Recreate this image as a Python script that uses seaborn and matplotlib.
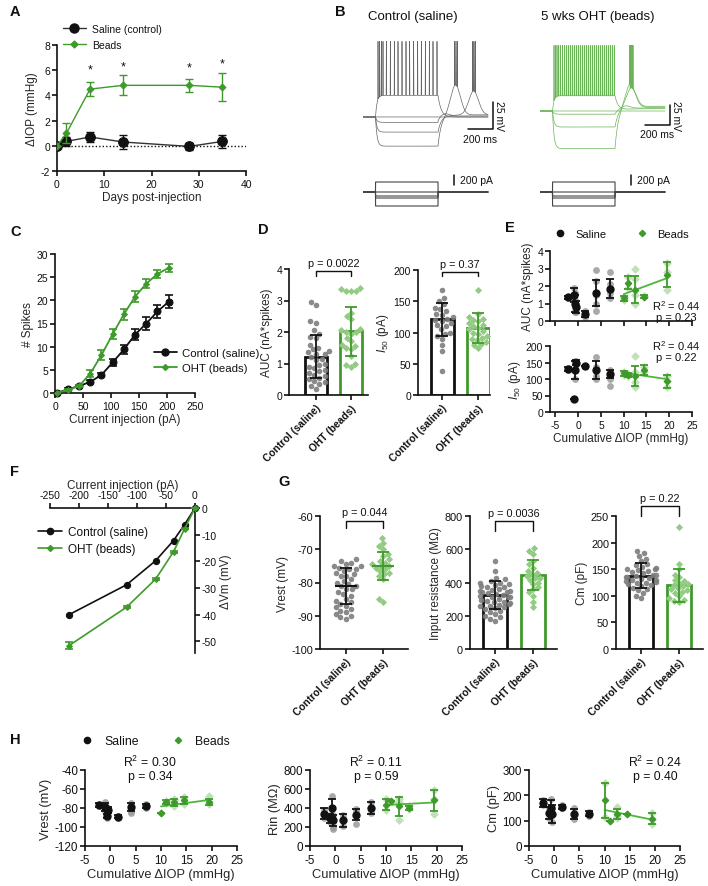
import numpy as np
import matplotlib
matplotlib.use('Agg')
import matplotlib.pyplot as plt
import seaborn as sns
from matplotlib.lines import Line2D

# ---------------- data ----------------
# A: IOP change over time
iop_days = [0, 2, 7, 14, 28, 35]
iop_saline = [0.0, 0.35, 0.7, 0.3, -0.05, 0.35]
iop_saline_err = [0.0, 0.35, 0.4, 0.55, 0.3, 0.5]
iop_beads = [0.0, 1.0, 4.5, 4.8, 4.8, 4.65]
iop_beads_err = [0.0, 0.8, 0.55, 0.8, 0.5, 1.1]
star_days = [7, 14, 28, 35]
star_y = [6.1, 6.3, 6.2, 6.5]

# B: example traces (levels in mV, spike times in ms)
ctrl_levels = [-50, -70, -75, -84, -97]
ctrl_spikes = [[120, 133, 147, 160, 187, 219, 251, 280, 312, 344, 373, 405, 437, 467, 499, 531, 560, 592],
               [], [], [878, 888, 899], [733, 744, 755]]
ctrl_hump = [0, 0, 3, 22, 28]
ctrl_hump_t = [0, 0, 650, 885, 740]
ctrl_tail = [0, 0, 1, 2, 2]
oht_levels = [-51, -70, -74, -90, -117]
oht_spikes = [[112, 124, 136, 150, 165, 180, 195, 210, 226, 242, 258, 274, 290, 306, 322, 338,
               354, 370, 386, 402, 418, 434, 450, 466, 482, 498, 514, 530, 546, 562, 578, 594],
              [], [], [722, 728, 735, 742], [716, 722, 729, 736, 744]]
oht_hump = [0, 0, 4, 24, 30]
oht_hump_t = [0, 0, 680, 730, 722]
oht_tail = [3, 0, 4, 6, 5]
step_currents = [200, 0, -80, -120, -280]

# C: spikes vs current
inj_pA = [3, 23, 43, 63, 83, 103, 123, 143, 163, 183, 203]
spk_ctrl = [0.0, 0.8, 1.5, 2.4, 3.9, 6.6, 9.4, 12.6, 15.0, 17.6, 19.7]
spk_ctrl_err = [0.2, 0.3, 0.3, 0.3, 0.4, 0.8, 1.0, 1.2, 1.3, 1.4, 1.4]
spk_oht = [0.0, 0.7, 1.5, 4.2, 8.2, 12.7, 17.0, 20.8, 23.6, 25.7, 27.0]
spk_oht_err = [0.1, 0.2, 0.3, 0.8, 1.0, 1.1, 1.2, 1.2, 1.0, 0.9, 0.9]

groups = ['Control (saline)', 'OHT (beads)']

# D
auc_ctrl = [2.95, 2.85, 2.35, 2.3, 2.05, 1.95, 1.85, 1.8, 1.6, 1.5, 1.45, 1.4, 1.35, 1.3, 1.3, 1.2, 1.15,
            1.1, 1.0, 0.95, 0.9, 0.85, 0.8, 0.75, 0.7, 0.65, 0.6, 0.55, 0.5, 0.45, 0.4, 0.35, 0.3, 0.2]
auc_oht = [3.4, 3.35, 3.3, 3.3, 3.3, 2.6, 2.5, 2.4, 2.1, 2.05, 2.0, 2.0, 1.95, 1.8, 1.7, 1.6, 1.55,
           1.5, 1.45, 1.25, 1.0, 0.95, 0.9]
auc_mean = [1.22, 2.02]
auc_sd = [0.68, 0.78]
i50_ctrl = [168, 155, 150, 145, 140, 138, 135, 130, 128, 125, 122, 120, 118, 115, 112, 110, 105,
            100, 98, 95, 90, 80, 70, 38]
i50_oht = [168, 130, 125, 122, 120, 118, 115, 112, 110, 108, 105, 102, 100, 98, 95, 92, 90, 88,
           85, 82, 80, 75]
i50_mean = [121, 107]
i50_sd = [27, 24]

# E / H: per-animal values vs cumulative IOP
animal_x_sal = [-2.2, -1.0, -0.7, -0.4, 1.5, 4.0, 7.0]
animal_x_oht = [10.0, 11.0, 12.5, 14.5, 19.5]
e_auc = dict(sal_mean=[1.35, 1.5, 1.0, 0.8, 0.4, 1.6, 1.85], sal_sd=[0.1, 0.4, 0.5, 0.35, 0.15, 0.75, 0.55],
             sal_pts=[[1.3, 1.4], [1.9, 1.2, 1.4], [1.6, 0.6, 0.5, 1.2], [0.9, 0.7, 0.5], [0.55, 0.25],
                      [2.9, 2.3, 1.5, 1.0, 0.6], [2.8, 2.1, 1.6, 1.3]],
             oht_mean=[1.3, 2.2, 1.8, 1.4, 2.65], oht_sd=[0.15, 0.35, 0.75, 0.1, 0.7],
             oht_pts=[[1.2, 1.4], [2.5, 1.9], [3.0, 2.4, 1.0, 1.5], [1.35, 1.45], [3.3, 2.8, 1.8]])
e_i50 = dict(sal_mean=[130, 38, 128, 150, 140, 127, 114], sal_sd=[5, 0, 28, 8, 0, 27, 12],
             sal_pts=[[128, 133], [38], [155, 100, 130], [155, 145], [140], [168, 135, 110, 100],
                      [128, 118, 100, 80]],
             oht_mean=[117, 112, 110, 127, 93], oht_sd=[8, 5, 30, 15, 20],
             oht_pts=[[112, 122], [108, 116], [170, 120, 90, 75], [120, 135], [110, 95, 75]])
h_vrest = dict(sal_mean=[-77, -79, -88, -82, -89, -79, -78], sal_sd=[2, 4, 2, 3, 2, 4, 2],
               sal_pts=[[-76, -78], [-74, -83, -80], [-90, -87, -89], [-80, -84], [-90, -88],
                        [-75, -83, -85, -78], [-76, -79, -80]],
               oht_mean=[-85, -74, -74, -72, -74], oht_sd=[0, 2, 4, 4, 3],
               oht_pts=[[-85], [-73, -75], [-70, -78, -72, -76], [-68, -76], [-67, -76, -75]])
h_rin = dict(sal_mean=[340, 290, 400, 270, 270, 330, 400], sal_sd=[60, 50, 90, 60, 70, 60, 60],
             sal_pts=[[300, 380], [250, 330, 280], [530, 400, 330, 290], [200, 250, 330, 180], [210, 330],
                      [390, 330, 230, 370], [460, 400, 350, 380]],
             oht_mean=[435, 470, 420, 400, 480], oht_sd=[60, 0, 100, 25, 110],
             oht_pts=[[380, 490], [470], [270, 500, 450, 460], [390, 420], [590, 500, 340]])
h_cm = dict(sal_mean=[170, 130, 150, 125, 155, 125, 128], sal_sd=[15, 25, 30, 35, 8, 20, 10],
            sal_pts=[[160, 180], [110, 150, 135], [185, 120, 150], [95, 150, 130], [150, 160],
                     [150, 105, 120, 125], [120, 135, 130]],
            oht_mean=[180, 100, 125, 128, 108], oht_sd=[70, 0, 20, 0, 22],
            oht_pts=[[250, 115], [100], [155, 110, 120], [128], [130, 88, 105]])

# F: IV relation
iv_pA_ctrl = [-217, -118, -68, -37, -18, 0]
iv_dv_ctrl = [-40.0, -28.8, -19.8, -12.2, -6.2, 0.0]
iv_pA_oht = [-217, -118, -68, -37, -18, 0]
iv_dv_oht = [-51.6, -37.2, -26.7, -16.4, -7.8, 0.0]
iv_err_oht = [1.2, 0.5, 0.4, 0.3, 0.2, 0.0]

# G
vrest_ctrl = [-73, -73.5, -74, -74.5, -75, -75, -75.5, -76, -76, -76.5, -77, -77.5, -78, -78, -79, -79.5,
              -80, -80.5, -81, -81, -82, -82, -83, -83.5, -84, -85, -85.5, -86, -86.5, -87, -87.5, -88,
              -88.5, -89, -89.5, -90, -90.5, -91]
vrest_oht = [-66.5, -68, -69, -70, -71.5, -72, -73, -73.5, -74, -74.5, -75, -75, -75.5, -76, -76.5, -77,
             -77.5, -78, -79, -85, -86]
vrest_mean = [-81.0, -75.0]
vrest_sd = [5.5, 4.2]
rin_ctrl = [530, 470, 430, 420, 410, 400, 395, 390, 385, 380, 375, 370, 360, 355, 350, 350, 345, 340, 335,
            330, 325, 320, 315, 310, 310, 300, 295, 290, 285, 280, 275, 270, 265, 260, 260, 250, 245, 240,
            230, 220, 210, 200, 190, 180, 170]
rin_oht = [605, 590, 570, 530, 510, 490, 470, 460, 450, 440, 430, 425, 415, 400, 390, 370, 360, 340, 320,
           280, 250]
rin_mean = [325, 443]
rin_sd = [85, 90]
cm_ctrl = [185, 180, 175, 170, 165, 160, 158, 155, 152, 150, 150, 148, 146, 144, 142, 140, 140, 138, 136,
           135, 134, 132, 130, 130, 128, 126, 125, 124, 122, 120, 118, 115, 112, 110, 105, 100, 95]
cm_oht = [230, 160, 150, 140, 135, 130, 128, 125, 122, 120, 118, 115, 112, 110, 108, 105, 100, 95, 92,
          90, 88]
cm_mean = [138, 120]
cm_sd = [23, 31]

# ---------------- style ----------------
INK = '#111111'
GREEN = '#3f9a2c'
LINE_GREEN = '#4cb83a'
LIGHT_GREEN = '#92cb82'
GRAY = '#7d7d7d'

sns.set_style('ticks')
plt.rcParams['font.family'] = ['Liberation Sans', 'DejaVu Sans']
plt.rcParams.update({
    'mathtext.fontset': 'custom', 'mathtext.rm': 'Liberation Sans',
    'mathtext.it': 'Liberation Sans:italic', 'mathtext.default': 'regular',
    'axes.unicode_minus': False,
    'axes.linewidth': 1.2, 'xtick.major.width': 1.2, 'ytick.major.width': 1.2,
    'xtick.major.size': 3.5, 'ytick.major.size': 3.5, 'xtick.major.pad': 2, 'ytick.major.pad': 1.5,
    'xtick.labelsize': 7.5, 'ytick.labelsize': 7.5, 'axes.labelsize': 8.5,
    'axes.edgecolor': INK, 'xtick.color': INK, 'ytick.color': INK, 'text.color': INK,
    'axes.labelpad': 2,
})

W, H = 708, 887
fig = plt.figure(figsize=(W / 100, H / 100), dpi=100)


def px_axes(x0, y0, x1, y1):
    return fig.add_axes([x0 / W, 1 - y1 / H, (x1 - x0) / W, (y1 - y0) / H])


def px_text(x, y, s, **kw):
    fig.text(x / W, 1 - y / H, s, **kw)


def px_anchor(x, y):
    return (x / W, 1 - y / H)


for letter, (lx, ly) in zip('ABCDEFGH', [(10, 12), (335, 12), (10, 232), (258, 230), (505, 228),
                                          (10, 472), (278, 482), (10, 740)]):
    px_text(lx, ly, letter, fontsize=10.5, fontweight='bold', ha='left', va='center')

# ---------------- A ----------------
axA = px_axes(57, 46, 246, 172)
axA.axhline(0, color=INK, lw=1, ls=(0, (1, 1.5)), zorder=1)
sns.lineplot(x=iop_days, y=iop_saline, ax=axA, color='#333333', lw=1, marker='o', markersize=7,
             markerfacecolor=INK, markeredgecolor=INK, zorder=3)
axA.errorbar(iop_days, iop_saline, yerr=iop_saline_err, fmt='none', ecolor=INK, elinewidth=1,
             capsize=3, capthick=1, zorder=3)
sns.lineplot(x=iop_days, y=iop_beads, ax=axA, color=GREEN, lw=1, marker='D', markersize=3.5,
             markerfacecolor=GREEN, markeredgecolor=GREEN, zorder=4)
axA.errorbar(iop_days, iop_beads, yerr=iop_beads_err, fmt='none', ecolor=GREEN, elinewidth=1,
             capsize=3, capthick=1, zorder=4)
for d, sy in zip(star_days, star_y):
    axA.text(d, sy, '*', ha='center', va='center', fontsize=9)
axA.set_xlim(0, 40)
axA.set_ylim(-2, 8)
axA.set_xticks([0, 10, 20, 30, 40])
axA.set_yticks([-2, 0, 2, 4, 6, 8])
axA.set_xlabel('Days post-injection')
axA.set_ylabel('ΔIOP (mmHg)')
sns.despine(ax=axA)
hA = [Line2D([], [], color='#333333', lw=1, marker='o', ms=6.5, mfc=INK, mec=INK),
      Line2D([], [], color=GREEN, lw=1, marker='D', ms=3.5, mfc=GREEN, mec=GREEN)]
axA.legend(hA, ['Saline (control)', 'Beads'], loc='upper left', bbox_to_anchor=px_anchor(63, 25),
           bbox_transform=fig.transFigure, frameon=False, fontsize=7.5, handlelength=2.2,
           labelspacing=0.55, borderpad=0, borderaxespad=0, handletextpad=0.6)

# ---------------- B ----------------
trace_t = np.arange(0, 1000, 0.25)


def build_trace(base, level, spikes, peak, hump, hump_t, tail):
    v = np.full(trace_t.shape, float(base))
    on = (trace_t >= 100) & (trace_t < 600)
    v[on] = base + (level - base) * (1 - np.exp(-(trace_t[on] - 100) / 12))
    off = trace_t >= 600
    s = trace_t[off] - 600
    v[off] = base + (level - base) * np.exp(-s / 25) + tail * (1 - np.exp(-s / 80))
    if hump:
        v = v + hump * np.exp(-((trace_t - hump_t) / 55) ** 2) * off
    under = v.copy()
    for ts in spikes:
        v = v + (peak - np.interp(ts, trace_t, under)) * np.exp(-((trace_t - ts) / 0.9) ** 2)
    return v


def step_trace(amp):
    i = np.zeros_like(trace_t)
    i[(trace_t >= 100) & (trace_t < 600)] = amp
    return i


def trace_panel(box, ibox, xmax, ylim, levels, spikes, humps, hump_ts, tails, peak, color, title,
                vbar, tbar_y, title_x):
    ax = px_axes(*box)
    for lev, sp, hu, ht, tl in zip(levels, spikes, humps, hump_ts, tails):
        ax.plot(trace_t, build_trace(-70, lev, sp, peak, hu, ht, tl), color=color, lw=0.5)
    ax.set_xlim(0, xmax)
    ax.set_ylim(*ylim)
    ax.axis('off')
    ax.plot([840, 1040, 1040], [vbar, vbar, vbar + 25], color=INK, lw=1.1, clip_on=False)
    ax.text(940, tbar_y, '200 ms', ha='center', va='top', fontsize=7.5, clip_on=False)
    ax.text(1090, vbar + 12.5, '25 mV', ha='center', va='center', rotation=270, fontsize=7.5,
            clip_on=False)
    axi = px_axes(*ibox)
    for amp in step_currents:
        axi.plot(trace_t, step_trace(amp), color='#444444', lw=0.8)
    axi.set_xlim(0, xmax)
    axi.set_ylim(-340, 360)
    axi.axis('off')
    axi.plot([725, 725], [150, 350], color=INK, lw=1.1, clip_on=False)
    axi.text(775, 250, '200 pA', ha='left', va='center', fontsize=7.5)
    px_text(title_x, 17, title, fontsize=9.5, ha='center', va='center')


trace_panel((363, 40, 500, 152), (363, 175, 500, 210), 1096, (-101.5, 2.2), ctrl_levels, ctrl_spikes,
            ctrl_hump, ctrl_hump_t, ctrl_tail, 0, '#666666', 'Control (saline)', -81, -86, 413)
trace_panel((540, 40, 680, 155), (540, 175, 680, 210), 1120, (-123.75, 20), oht_levels, oht_spikes,
            oht_hump, oht_hump_t, oht_tail, 12, '#6ab457', '5 wks OHT (beads)', -87.5, -93, 598)

# ---------------- C ----------------
axC = px_axes(55, 255, 195, 394)
sns.lineplot(x=inj_pA, y=spk_ctrl, ax=axC, color=INK, lw=1.3, marker='o', markersize=5,
             markerfacecolor=INK, markeredgecolor=INK, zorder=3, clip_on=False)
axC.errorbar(inj_pA, spk_ctrl, yerr=spk_ctrl_err, fmt='none', ecolor=INK, elinewidth=1.2, capsize=3,
             capthick=1.2, zorder=3)
sns.lineplot(x=inj_pA, y=spk_oht, ax=axC, color=GREEN, lw=1.3, marker='D', markersize=3,
             markerfacecolor=GREEN, markeredgecolor=GREEN, zorder=4, clip_on=False)
axC.errorbar(inj_pA, spk_oht, yerr=spk_oht_err, fmt='none', ecolor=GREEN, elinewidth=1.2, capsize=3,
             capthick=1.2, zorder=4)
axC.set_xlim(0, 250)
axC.set_ylim(0, 30)
axC.set_xticks([0, 50, 100, 150, 200, 250])
axC.set_yticks([0, 5, 10, 15, 20, 25, 30])
axC.set_xlabel('Current injection (pA)')
axC.set_ylabel('# Spikes')
sns.despine(ax=axC)
hC = [Line2D([], [], color=INK, lw=1.3, marker='o', ms=5, mfc=INK, mec=INK),
      Line2D([], [], color=GREEN, lw=1.3, marker='D', ms=3, mfc=GREEN, mec=GREEN)]
axC.legend(hC, groups, loc='upper left', bbox_to_anchor=px_anchor(154, 349),
           bbox_transform=fig.transFigure, frameon=False, fontsize=8.2, handlelength=2.0,
           labelspacing=0.45, borderpad=0, borderaxespad=0, handletextpad=0.5)


# ---------------- bar / scatter panels (D, G) ----------------
def group_panel(box, xlim, ctrl, oht, means, sds, ylim, yticks, ylabel, ptext, br_lo, br_hi, text_y,
                bars=True, tick_size=7.5):
    ax = px_axes(*box)
    if bars:
        sns.barplot(x=groups, y=means, hue=groups, order=groups, hue_order=groups,
                    palette=[INK, GREEN], fill=False, linewidth=2, width=0.64, errorbar=None,
                    legend=False, ax=ax, zorder=2)
    sns.swarmplot(x=[groups[0]] * len(ctrl), y=ctrl, order=groups, color=GRAY, size=4, marker='o',
                  alpha=0.9, ax=ax, zorder=3, warn_thresh=1)
    sns.swarmplot(x=[groups[1]] * len(oht), y=oht, order=groups, color=LIGHT_GREEN, size=3.6,
                  marker='D', ax=ax, zorder=3, warn_thresh=1)
    for i, (m, s, c) in enumerate(zip(means, sds, [INK, GREEN])):
        ax.errorbar(i, m, yerr=s, fmt='none', ecolor=c, elinewidth=1.3, capsize=4.5, capthick=1.3,
                    zorder=5)
        if not bars:
            ax.hlines(m, i - 0.3, i + 0.3, color=c, lw=1.5, zorder=5)
    ax.plot([0, 0, 1, 1], [br_lo, br_hi, br_hi, br_lo], color=INK, lw=1, clip_on=False)
    ax.text(0.5, text_y, ptext, ha='center', va='bottom', fontsize=7.8)
    ax.set_xlim(*xlim)
    ax.set_ylim(*ylim)
    ax.set_yticks(yticks)
    ax.tick_params(axis='y', labelsize=tick_size)
    ax.set_xticks([0, 1])
    ax.set_xticklabels(groups, rotation=45, ha='right', rotation_mode='anchor', fontweight='bold',
                       fontsize=7.4)
    ax.set_xlabel('')
    ax.set_ylabel(ylabel)
    sns.despine(ax=ax)
    return ax


group_panel((289, 270, 368, 396), (-0.77, 1.49), auc_ctrl, auc_oht, auc_mean, auc_sd, (0, 4),
            [0, 1, 2, 3, 4], 'AUC (nA*spikes)', 'p = 0.0022', 3.78, 3.94, 4.02)
group_panel((418, 271, 490, 396), (-0.67, 1.33), i50_ctrl, i50_oht, i50_mean, i50_sd, (0, 200),
            [0, 50, 100, 150, 200], '$\\mathit{I}_{50}$ (pA)', 'p = 0.37', 190, 197, 201)
group_panel((320, 517, 408, 650), (-0.70, 1.68), vrest_ctrl, vrest_oht, vrest_mean, vrest_sd,
            (-100, -60), [-100, -90, -80, -70, -60], 'Vrest (mV)', 'p = 0.044', -63.6, -61.5, -60.3,
            bars=False, tick_size=7.8)
group_panel((470, 517, 557, 650), (-0.66, 1.63), rin_ctrl, rin_oht, rin_mean, rin_sd, (0, 800),
            [0, 200, 400, 600, 800], 'Input resistance (MΩ)', 'p = 0.0036', 710, 770, 785,
            tick_size=7.8)
group_panel((616, 517, 703, 650), (-0.66, 1.63), cm_ctrl, cm_oht, cm_mean, cm_sd, (0, 250),
            [0, 50, 100, 150, 200, 250], 'Cm (pF)', 'p = 0.22', 250, 269, 274, tick_size=7.8)


# ---------------- E / H ----------------
def animal_panel(box, var, xlim, ylim, yticks, ylabel, show_xlabels=True, tick_size=7.5, label_size=8.5):
    ax = px_axes(*box)
    for x, pts in zip(animal_x_sal, var['sal_pts']):
        sns.scatterplot(x=[x] * len(pts), y=pts, color='#9a9a9a', s=24, linewidth=0, alpha=0.85,
                        ax=ax, zorder=2)
    for x, pts in zip(animal_x_oht, var['oht_pts']):
        sns.scatterplot(x=[x] * len(pts), y=pts, color='#c2e0b8', s=20, marker='D', linewidth=0,
                        ax=ax, zorder=2)
    ax.errorbar(animal_x_sal, var['sal_mean'], yerr=var['sal_sd'], fmt='o', color=INK, ms=5,
                elinewidth=1.3, capsize=3, capthick=1.3, zorder=4)
    ax.errorbar(animal_x_oht, var['oht_mean'], yerr=var['oht_sd'], fmt='D', color=GREEN, ms=3.2,
                elinewidth=1.3, capsize=3, capthick=1.3, zorder=4)
    slope, icpt = np.polyfit(animal_x_oht, var['oht_mean'], 1)
    xs = np.array([min(animal_x_oht), max(animal_x_oht)])
    sns.lineplot(x=xs, y=slope * xs + icpt, color=LINE_GREEN, lw=1.3, ax=ax, zorder=3)
    ax.set_xlim(*xlim)
    ax.set_ylim(*ylim)
    ax.set_xticks([-5, 0, 5, 10, 15, 20, 25])
    ax.set_yticks(yticks)
    ax.tick_params(labelsize=tick_size)
    if show_xlabels:
        ax.set_xlabel('Cumulative ΔIOP (mmHg)', fontsize=label_size)
    else:
        ax.set_xticklabels([])
    ax.set_ylabel(ylabel, fontsize=label_size)
    sns.despine(ax=ax)
    return ax


axE1 = animal_panel((550, 252, 692, 322), e_auc, (-6.2, 25), (0, 4), [0, 1, 2, 3, 4], 'AUC (nA*spikes)',
                    show_xlabels=False)
axE2 = animal_panel((550, 347, 692, 413), e_i50, (-6.2, 25), (0, 200), [0, 50, 100, 150, 200],
                    '$\\mathit{I}_{50}$ (pA)')
px_text(676, 306, 'R$^2$ = 0.44', ha='center', va='center', fontsize=8)
px_text(676, 318, 'p = 0.23', ha='center', va='center', fontsize=8)
px_text(676, 346, 'R$^2$ = 0.44', ha='center', va='center', fontsize=8)
px_text(676, 358, 'p = 0.22', ha='center', va='center', fontsize=8)

hE = [Line2D([], [], ls='none', marker='o', ms=4.5, color=INK),
      Line2D([], [], ls='none', marker='D', ms=3.2, color=GREEN)]
axE1.legend(hE, ['Saline', 'Beads'], loc='center left', bbox_to_anchor=px_anchor(553, 235),
            bbox_transform=fig.transFigure, frameon=False, fontsize=8, ncol=2, handlelength=1.2,
            columnspacing=2.6, borderpad=0, borderaxespad=0, handletextpad=0.8)

axH1 = animal_panel((85, 771, 237, 847), h_vrest, (-5, 25), (-120, -40), [-120, -100, -80, -60, -40],
                    'Vrest (mV)', tick_size=8.4, label_size=9.3)
animal_panel((310, 771, 462, 847), h_rin, (-5, 25), (0, 800), [0, 200, 400, 600, 800], 'Rin (MΩ)',
             tick_size=8.4, label_size=9.3)
animal_panel((529, 771, 680, 847), h_cm, (-5, 25), (0, 300), [0, 100, 200, 300], 'Cm (pF)',
             tick_size=8.4, label_size=9.3)
for cx, r2, pv in [(150, '0.30', '0.34'), (376, '0.11', '0.59'), (655, '0.24', '0.40')]:
    px_text(cx, 762, 'R$^2$ = ' + r2, ha='center', va='center', fontsize=8.8)
    px_text(cx, 777, 'p = ' + pv, ha='center', va='center', fontsize=8.8)
axH1.legend(hE, ['Saline', 'Beads'], loc='center left', bbox_to_anchor=px_anchor(80, 742),
            bbox_transform=fig.transFigure, frameon=False, fontsize=8.8, ncol=2, handlelength=1.2,
            columnspacing=2.6, borderpad=0, borderaxespad=0, handletextpad=0.8)

# ---------------- F ----------------
axF = px_axes(50, 509, 195, 654)
sns.lineplot(x=iv_pA_ctrl, y=iv_dv_ctrl, ax=axF, color=INK, lw=1.2, marker='o', markersize=4.5,
             markerfacecolor=INK, markeredgecolor=INK, zorder=3, clip_on=False)
sns.lineplot(x=iv_pA_oht, y=iv_dv_oht, ax=axF, color=GREEN, lw=1.2, marker='D', markersize=3,
             markerfacecolor=GREEN, markeredgecolor=GREEN, zorder=4, clip_on=False)
axF.errorbar(iv_pA_oht, iv_dv_oht, yerr=iv_err_oht, fmt='none', ecolor=GREEN, elinewidth=1.2,
             capsize=3, capthick=1.2, zorder=4, clip_on=False)
axF.set_xlim(-250, 0)
axF.set_ylim(-54.4, 0)
axF.set_xticks([-250, -200, -150, -100, -50, 0])
axF.set_yticks([-50, -40, -30, -20, -10, 0])
axF.xaxis.tick_top()
axF.xaxis.set_label_position('top')
axF.yaxis.tick_right()
axF.yaxis.set_label_position('right')
for side in ['left', 'bottom']:
    axF.spines[side].set_visible(False)
axF.spines['top'].set_visible(True)
axF.spines['right'].set_visible(True)
axF.set_xlabel('Current injection (pA)')
axF.set_ylabel('ΔVm (mV)')
hF = [Line2D([], [], color=INK, lw=1.2, marker='o', ms=4.5, mfc=INK, mec=INK),
      Line2D([], [], color=GREEN, lw=1.2, marker='D', ms=3, mfc=GREEN, mec=GREEN)]
axF.legend(hF, groups, loc='upper left', bbox_to_anchor=px_anchor(38, 527),
           bbox_transform=fig.transFigure, frameon=False, fontsize=8.5, handlelength=2.0,
           labelspacing=0.45, borderpad=0, borderaxespad=0, handletextpad=0.5)

fig.savefig('out.png', dpi=100)
